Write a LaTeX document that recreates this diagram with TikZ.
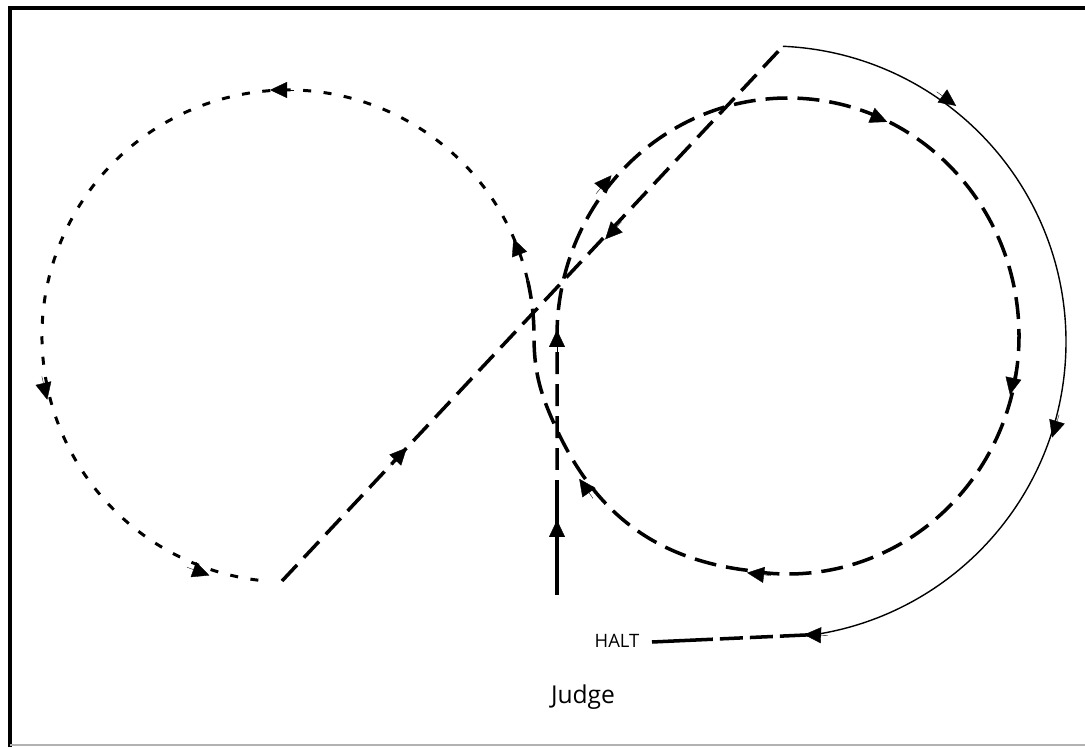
\documentclass[tikz,border=0pt]{standalone}
\usepackage{fontspec}
\setmainfont{Open Sans}
\usetikzlibrary{arrows.meta}

\begin{document}
\begin{tikzpicture}[x=0.02cm, y=0.02cm,
    dotline/.style={line width=1.7pt, dash pattern=on 0.16cm off 0.25cm},
    dashline/.style={line width=2pt, dash pattern=on 0.44cm off 0.2cm},
    rein/.style={line width=0.8pt},
    entry/.style={line width=2.4pt},
    headtip/.style={-{Triangle[length=0.34cm, width=0.32cm]}, line width=0.2pt},
    lbl/.style={inner sep=0pt, font=\fontsize{#1}{#1}\selectfont}
]
    \useasboundingbox (0,0) rectangle (1085,747);
    % arena frame
    \draw[line width=2.8pt] (10,0) -- (10,739) -- (1085,739);
    \draw[gray!60, line width=1pt] (10,2) -- (1085,2);

    % left circle, dotted
    \path (288,411) ++(13:246) coordinate (lefttop);
    \draw[dotline] (lefttop) arc[start angle=13, end angle=265, radius=246];

    % entry and right circle, then change of rein into the left circle
    \coordinate (entrybot) at (557,152);
    \coordinate (entrytop) at (557,267);
    \coordinate (cross) at (557,317);
    \draw[entry] (entrybot) -- (entrytop);
    \draw[dashline] (557,277) -- (557,411)
        arc[start angle=180, end angle=-100, x radius=231, y radius=238]
        to[out=173, in=-65] (cross)
        to[out=115, in=-90] (534,411)
        arc[start angle=0, end angle=13, radius=246];

    % diagonal and outer rein to the halt
    \path (770,405) ++(87.5:296) coordinate (turn);
    \path (770,405) ++(-81.3:296) coordinate (halttip);
    \coordinate (diagstart) at (282,166);
    \draw[dashline] (diagstart) -- (turn);
    \draw[rein] (turn) arc[start angle=87.5, end angle=-81.3, radius=296];
    \node[lbl=10.5] (halt) at (617,106) {HALT};
    \coordinate (haltend) at (652,105);
    \draw[line width=2pt, dash pattern=on 1.22cm off 0.14cm on 0.46cm off 0.14cm on 0.46cm off 0.14cm on 0.7cm]
        (haltend) -- (halttip);

    \node[lbl=14] (judge) at (583,50) {Judge};

    % arrow heads
    \foreach \x/\y/\a in {280/657/180, 45/357/-77, 200/175/-20, 517/499/111,
        400/292/47, 612/515/227, 605/564/50, 878/629/-23, 1012/362/-102,
        757/173/173, 585/260/125, 557/407/90, 557/217/90, 948/647/-36,
        1055/319/-107, 814/112/178}
        \draw[headtip] (\x,\y) ++(\a:-14) -- ++(\a:24);
\end{tikzpicture}
\end{document}
